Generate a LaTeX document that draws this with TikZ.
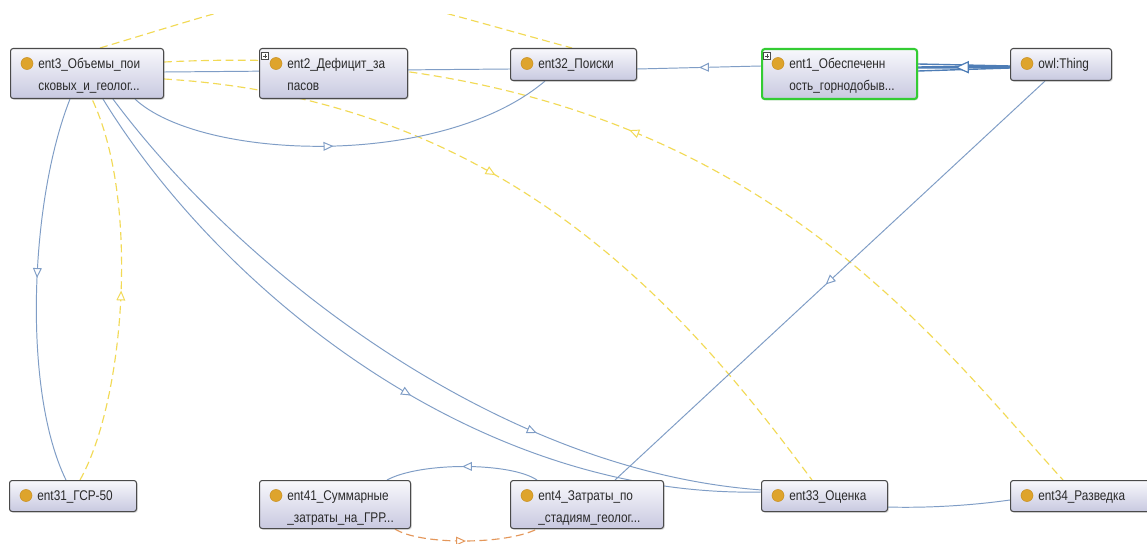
\documentclass[tikz,border=0pt]{standalone}
\usepackage{fontspec}
\newfontfamily\entfont[FakeStretch=0.84]{Liberation Sans}
\usetikzlibrary{arrows.meta,decorations.markings,calc,shadows}
\pgfdeclarelayer{background}
\pgfsetlayers{background,main}
\definecolor{edgeblue}{HTML}{7F9DC6}
\definecolor{edgedark}{HTML}{4E7DB6}
\definecolor{edgeyellow}{HTML}{F2DA55}
\definecolor{edgeorange}{HTML}{E4975A}
\definecolor{boxtop}{HTML}{F8F8FC}
\definecolor{boxbot}{HTML}{C8C9E0}
\definecolor{boxborder}{HTML}{4A4A4A}
\definecolor{entgreen}{HTML}{33CC33}
\definecolor{iconfill}{HTML}{DEA42C}
\definecolor{iconedge}{HTML}{C88E1E}
\definecolor{textgray}{HTML}{2A2A2A}
\tikzset{
  tipsmall/.tip={Triangle[length=5.6pt,width=5pt,fill=white,line width=0.55pt]},
  tipbig/.tip={Triangle[length=8pt,width=7pt,fill=white,line width=0.7pt]},
  midtip/.style={postaction={decorate,decoration={markings,mark=at position #1 with {\arrow{tipsmall}}}}},
  midtipr/.style={postaction={decorate,decoration={markings,mark=at position #1 with {\arrowreversed{tipsmall}}}}},
  midbig/.style={postaction={decorate,decoration={markings,mark=at position #1 with {\arrow{tipbig}}}}},
  bedge/.style={color=edgeblue,line width=0.55pt},
  yedge/.style={color=edgeyellow,line width=0.65pt,dash pattern=on 4.5pt off 2.5pt},
  oedge/.style={color=edgeorange,line width=0.65pt,dash pattern=on 4.5pt off 2.5pt},
  ebox/.style={draw=boxborder,line width=0.6pt,rounded corners=1.5pt,top color=boxtop,bottom color=boxbot,
    drop shadow={opacity=0.25,shadow xshift=0.7pt,shadow yshift=-0.7pt},inner sep=0pt},
  etext/.style={anchor=north west,inner sep=0pt,align=left,text=textgray,font=\entfont\fontsize{8}{12.5}\selectfont},
  plusbox/.style={draw=boxborder,fill=white,line width=0.3pt,minimum size=0.15cm,inner sep=0pt},
}
\newcommand{\entity}[7][]{%
  \node[ebox,#1,minimum width={#5*0.02cm},minimum height={#6*0.02cm},anchor=north west] (#2) at (#3,#4) {};
  \fill[iconfill,draw=iconedge,line width=0.3pt] ($(#2.north west)+(17,15.5)$) circle[radius=6];
  \node[etext] (#2-label) at ($(#2.north west)+(28,10)$) {#7};
}
\newcommand{\plusmark}[1]{%
  \node[plusbox] (#1-plus) at ($(#1.north west)+(6,8)$) {};
  \draw[boxborder,line width=0.4pt] ($(#1-plus.west)+(1.7,0)$) -- ($(#1-plus.east)+(-1.7,0)$)
    ($(#1-plus.north)+(0,1.7)$) -- ($(#1-plus.south)+(0,-1.7)$);
}
\begin{document}
\begin{tikzpicture}[x=0.02cm,y=-0.02cm]
\useasboundingbox (0,0) rectangle (1147,544);

\entity{ent3}{10}{48}{153}{50}{ent3\_Объемы\_пои\\сковых\_и\_геолог...}
\entity{ent2}{259}{48}{148}{50}{ent2\_Дефицит\_за\\пасов}
\entity{ent32}{510}{48}{126}{32}{ent32\_Поиски}
\entity[draw=entgreen,line width=1.2pt]{ent1}{761}{48}{155}{50}{ent1\_Обеспеченн\\ость\_горнодобыв...}
\entity{owl}{1010}{48}{101}{32}{owl:Thing}
\entity{ent31}{9}{480}{127}{31}{ent31\_ГСР-50}
\entity{ent41}{259}{480}{151}{48}{ent41\_Суммарные\\\_затраты\_на\_ГРР...}
\entity{ent4}{510}{480}{153}{48}{ent4\_Затраты\_по\\\_стадиям\_геолог...}
\entity{ent33}{761}{480}{126}{31}{ent33\_Оценка}
\entity{ent34}{1010}{480}{150}{31}{ent34\_Разведка}
\plusmark{ent2}
\plusmark{ent1}

\begin{pgfonlayer}{background}
\fill[white] (0,0) rectangle (1147,544);
\begin{scope}
\clip (0,15) rectangle (1147,544);
% yellow dashed arcs
\draw[yedge] ($(ent3.north west)+(90,0)$) .. controls (349,-27) and (308,-24) .. ($(ent32.north west)+(62,0)$);
\draw[yedge,midtipr=0.457] ($(ent3.north east)+(0,14)$) .. controls (713,35) and (913,315) .. ($(ent34.north west)+(53,0)$);
\draw[yedge,midtip=0.44] ($(ent3.north east)+(0,31)$) .. controls (513,100) and (692,318) .. ($(ent33.north west)+(51,0)$);
\draw[yedge,midtip=0.5] ($(ent31.north west)+(71,0)$) .. controls (125,400) and (140,200) .. ($(ent3.south west)+(82,0)$);
% blue solid edges
\draw[bedge,midtip=0.47] ($(ent3.south west)+(60,0)$) .. controls (30,200) and (22,390) .. ($(ent31.north west)+(57,0)$);
\draw[bedge,midtip=0.48] ($(ent3.south west)+(125,0)$) .. controls (200,160) and (440,170) .. ($(ent32.south west)+(35,0)$);
\draw[bedge] ($(ent3.north east)+(0,24)$) -- ($(ent32.north west)+(0,21)$);
\draw[bedge,midtip=0.54] ($(ent3.south west)+(93,0)$) .. controls (220,290) and (475,498) .. ($(ent33.north west)+(0,12)$);
\coordinate (via33) at (780,491);
\draw[bedge,midtip=0.53] ($(ent3.south west)+(103,0)$) .. controls (240,270) and (505,480) .. (via33)
  .. controls (840,512) and (940,510) .. ($(ent34.north west)+(0,20)$);
\draw[bedge,midtip=0.51] ($(owl.south west)+(35,0)$) -- ($(ent4.north west)+(105,0)$);
\draw[bedge,midtip=0.5] ($(ent4.north west)+(27,0)$) .. controls (510,462) and (420,462) .. ($(ent41.north west)+(128,0)$);
\draw[oedge,midtip=0.5] ($(ent41.south west)+(136,0)$) .. controls (420,545) and (505,545) .. ($(ent4.south west)+(27,0)$);
\draw[bedge,midtip=0.5] ($(ent1.north west)+(0,18)$) -- ($(ent32.north east)+(0,21)$);
% bundle owl:Thing -> ent1
\draw[color=edgedark,line width=0.8pt] ($(owl.north west)+(0,18)$) -- ($(ent1.north east)+(0,16)$);
\draw[color=edgedark,line width=0.8pt] ($(owl.north west)+(0,20)$) -- ($(ent1.north east)+(0,23)$);
\draw[color=edgedark,line width=1.4pt,midbig=0.6] ($(owl.north west)+(0,19)$) -- ($(ent1.north east)+(0,19.5)$);
\end{scope}
\end{pgfonlayer}
\end{tikzpicture}
\end{document}
